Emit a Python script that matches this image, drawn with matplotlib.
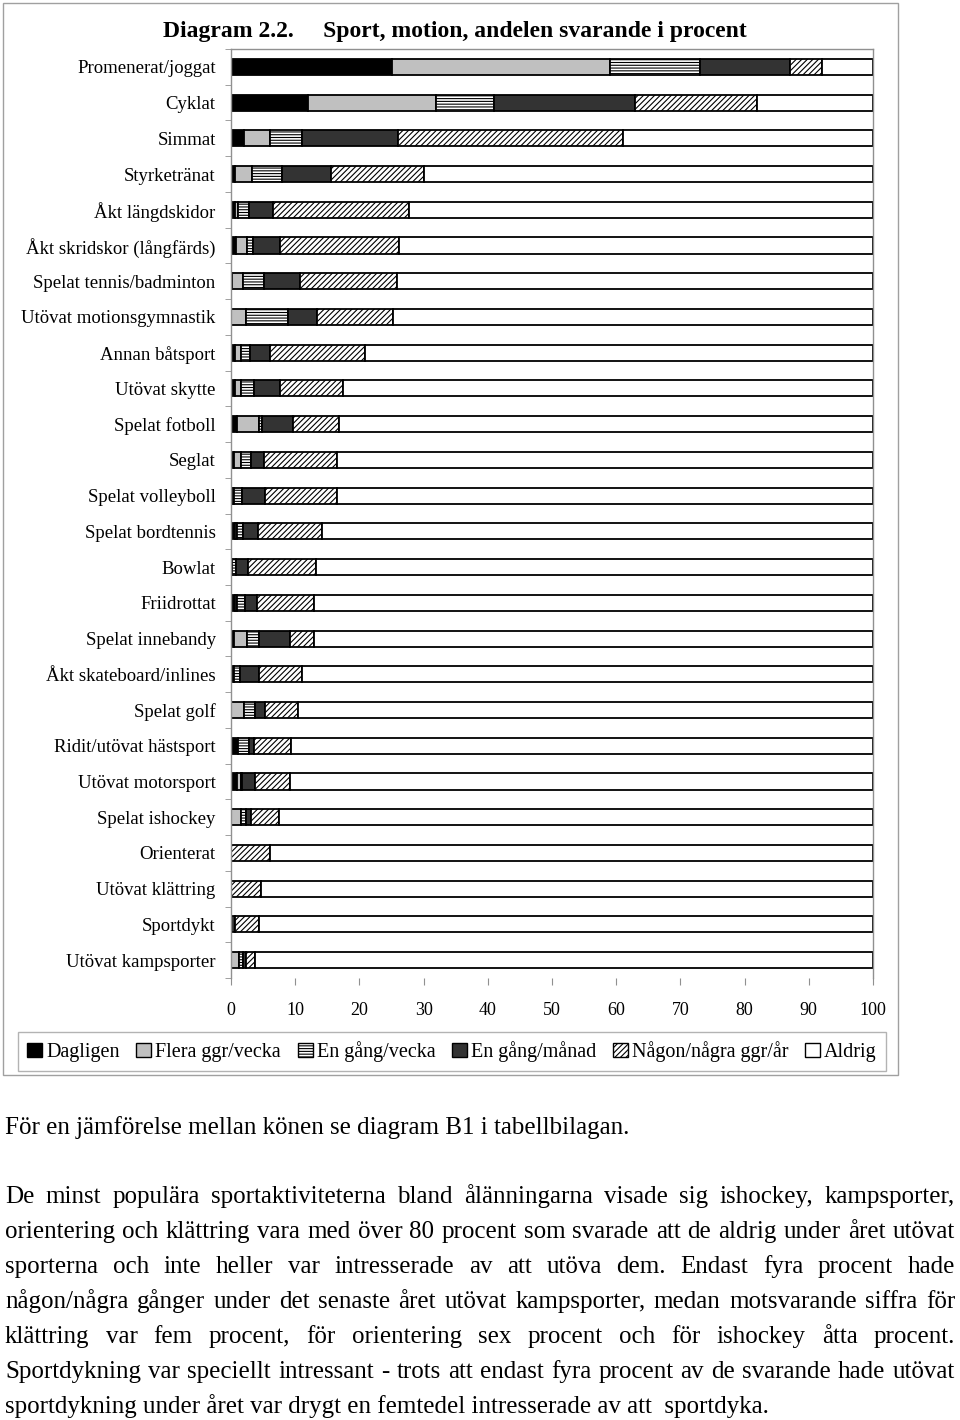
import matplotlib
matplotlib.use('Agg')
import matplotlib.pyplot as plt
from matplotlib.patches import Patch, Rectangle
import numpy as np

plt.rcParams['font.family'] = ['Liberation Serif', 'DejaVu Serif']
plt.rcParams['hatch.linewidth'] = 0.8

# categories top to bottom
categories = ['Promenerat/joggat', 'Cyklat', 'Simmat', 'Styrketränat', 'Åkt längdskidor',
              'Åkt skridskor (långfärds)', 'Spelat tennis/badminton', 'Utövat motionsgymnastik',
              'Annan båtsport', 'Utövat skytte', 'Spelat fotboll', 'Seglat', 'Spelat volleyboll',
              'Spelat bordtennis', 'Bowlat', 'Friidrottat', 'Spelat innebandy',
              'Åkt skateboard/inlines', 'Spelat golf', 'Ridit/utövat hästsport',
              'Utövat motorsport', 'Spelat ishockey', 'Orienterat', 'Utövat klättring',
              'Sportdykt', 'Utövat kampsporter']

dagligen = [25, 12, 2, 0.7, 0.7, 0.8, 0.2, 0, 0.7, 0.7, 1.0, 0.5, 0.2, 0.7, 0.2, 0.6, 0.5,
            0.4, 0, 1.1, 1.0, 0, 0, 0, 0, 0]
flera = [34, 20, 4, 2.6, 0.4, 1.7, 1.6, 2.3, 0.8, 0.9, 3.4, 1.1, 0.3, 0.3, 0, 0.3, 2.0,
         0, 2.0, 0, 0.5, 1.5, 0, 0, 0, 1.3]
vecka = [14, 9, 5, 4.7, 1.7, 1.0, 3.4, 6.6, 1.4, 2.0, 0.5, 1.5, 1.2, 0.9, 0.6, 1.3, 1.9,
         1.0, 1.8, 1.7, 0.2, 0.9, 0, 0, 0, 0.6]
manad = [14, 22, 15, 7.5, 3.8, 4.2, 5.6, 4.5, 3.1, 4.1, 4.8, 2.0, 3.6, 2.3, 1.8, 1.9, 4.8,
         2.9, 1.5, 0.8, 2.1, 0.7, 0, 0, 0.7, 0.5]
per_ar = [5, 19, 35, 14.5, 21.1, 18.5, 15.1, 11.9, 14.8, 9.7, 7.2, 11.4, 11.2, 9.9, 10.6,
          8.9, 3.8, 6.7, 5.2, 5.7, 5.4, 4.4, 6.0, 4.7, 3.7, 1.4]
aldrig = [8, 18, 39, 70, 72.3, 73.8, 74.1, 74.7, 79.2, 82.6, 83.1, 83.5, 83.5, 85.9, 86.8,
          87.0, 87.0, 89, 89.5, 90.7, 90.8, 92.5, 94, 95.3, 95.6, 96.2]

series_names = ['Dagligen', 'Flera ggr/vecka', 'En gång/vecka', 'En gång/månad',
                'Någon/några ggr/år', 'Aldrig']
xticks = [0, 10, 20, 30, 40, 50, 60, 70, 80, 90, 100]

styles = [
    dict(facecolor='black', hatch=None),
    dict(facecolor='#c0c0c0', hatch=None),
    dict(facecolor='white', hatch='------'),
    dict(facecolor='#333333', hatch=None),
    dict(facecolor='white', hatch='//////'),
    dict(facecolor='white', hatch=None),
]

W, H = 960, 1420
fig = plt.figure(figsize=(W / 100, H / 100), dpi=100)

# outer chart frame
fig.patches.append(Rectangle((3 / W, 1 - 1075 / H), 895 / W, 1072 / H, transform=fig.transFigure,
                             facecolor='none', edgecolor='#a0a0a0', linewidth=1.0))

ax = fig.add_axes([231 / W, 1 - 978 / H, 642 / W, 929 / H])
y = np.arange(len(categories))
left = np.zeros(len(categories))
for name, vals, st in zip(series_names, [dagligen, flera, vecka, manad, per_ar, aldrig], styles):
    vals = np.array(vals, dtype=float)
    ax.barh(y, vals, left=left, height=0.45, facecolor=st['facecolor'], hatch=st['hatch'],
            edgecolor='black', linewidth=1.3, label=name)
    left += vals

ax.set_xlim(0, 100)
ax.set_ylim(len(categories) - 0.5, -0.5)
ax.set_yticks(y)
ax.set_yticklabels(categories, fontsize=13.5)
ax.set_yticks(np.arange(len(categories) + 1) - 0.5, minor=True)
ax.tick_params(axis='y', which='major', length=0, pad=11)
ax.tick_params(axis='y', which='minor', length=4, color='#909090', direction='out')
ax.set_xticks(xticks)
ax.set_xticklabels([str(t) for t in xticks], fontsize=13)
ax.tick_params(axis='x', length=5, color='#909090', direction='out', pad=12)
for side in ['top', 'right', 'left']:
    ax.spines[side].set_color('#909090')
    ax.spines[side].set_linewidth(1.0)
ax.spines['bottom'].set_visible(False)

fig.text(455 / W, 1 - 32 / H, 'Diagram 2.2.     Sport, motion, andelen svarande i procent',
         ha='center', va='center', fontsize=17, fontweight='bold')

handles = [Patch(facecolor=st['facecolor'], hatch=st['hatch'], edgecolor='black', linewidth=1.0)
           for st in styles]
leg = fig.legend(handles, series_names, loc='center', ncol=6, mode='expand',
                 bbox_to_anchor=(8 / W, 1 - 1070 / H, 888 / W, 37 / H),
                 fontsize=14.5, frameon=True, fancybox=False, handlelength=0.75,
                 handleheight=0.75, handletextpad=0.2, columnspacing=0.4, borderpad=0.45)
leg.get_frame().set_edgecolor('#a0a0a0')
leg.get_frame().set_linewidth(1.0)

# text below the chart
fs = 18
fig.text(5 / W, 1 - 1134 / H, 'För en jämförelse mellan könen se diagram B1 i tabellbilagan.',
         ha='left', va='baseline', fontsize=fs)

paragraph = [
    'De minst populära sportaktiviteterna bland ålänningarna visade sig ishockey, kampsporter,',
    'orientering och klättring vara med över 80 procent som svarade att de aldrig under året utövat',
    'sporterna och inte heller var intresserade av att utöva dem. Endast fyra procent hade',
    'någon/några gånger under det senaste året utövat kampsporter, medan motsvarande siffra för',
    'klättring var fem procent, för orientering sex procent och för ishockey åtta procent.',
    'Sportdykning var speciellt intressant - trots att endast fyra procent av de svarande hade utövat',
    'sportdykning under året var drygt en femtedel intresserade av att  sportdyka.',
]

renderer = fig.canvas.get_renderer()
x0, x1 = 5, 955
for i, line in enumerate(paragraph):
    yy = 1 - (1203 + 35 * i) / H
    if i == len(paragraph) - 1:
        fig.text(x0 / W, yy, line, ha='left', va='baseline', fontsize=fs)
        continue
    words = line.split()
    texts = [fig.text(0, yy, w, ha='left', va='baseline', fontsize=fs) for w in words]
    widths = [t.get_window_extent(renderer).width for t in texts]
    gap = (x1 - x0 - sum(widths)) / (len(words) - 1)
    xpos = x0
    for t, w in zip(texts, widths):
        t.set_x(xpos / W)
        xpos += w + gap

fig.savefig('out.png', dpi=100)
